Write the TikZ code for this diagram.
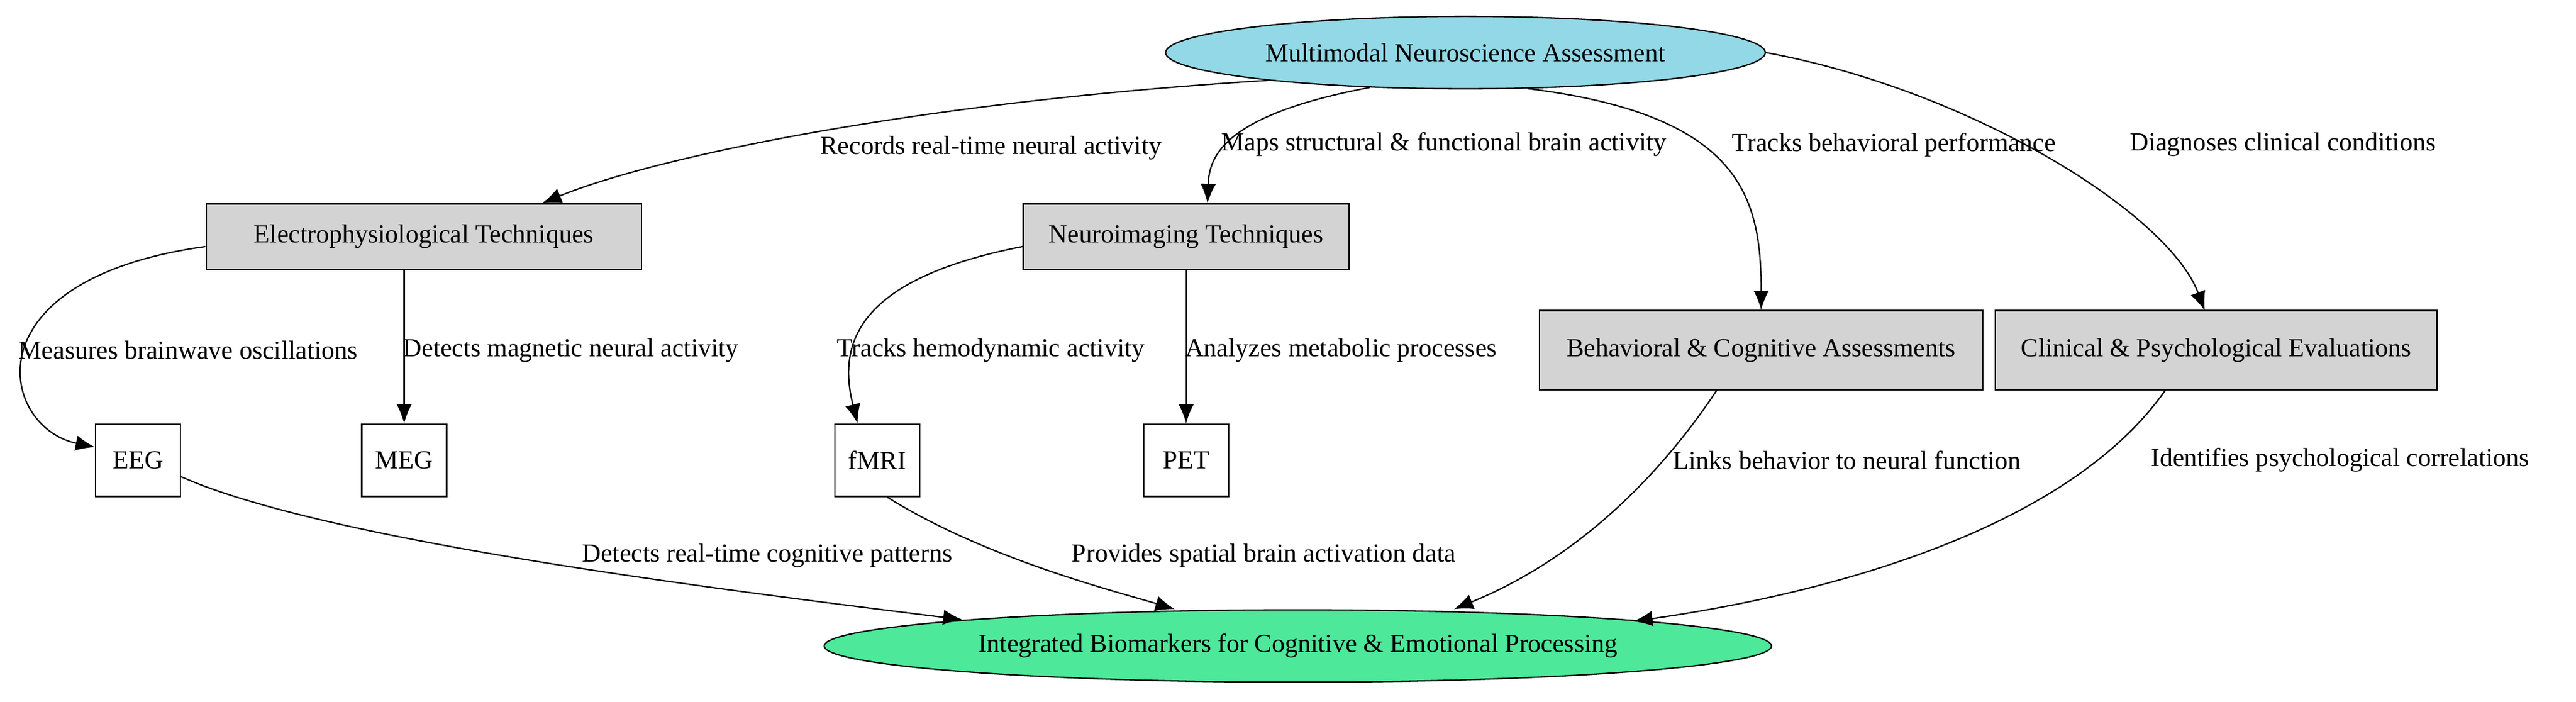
\documentclass[tikz,border=0pt]{standalone}
\usepackage{fontspec}
\setmainfont{Liberation Serif}
\usetikzlibrary{shapes.geometric,arrows.meta}
\definecolor{topc}{HTML}{93D8E6}
\definecolor{botc}{HTML}{4DE89A}
\definecolor{boxc}{HTML}{D3D3D3}
\begin{document}
\begin{tikzpicture}[x=0.03cm,y=-0.03cm,
  every node/.style={font=\fontsize{13.5}{15}\selectfont},
  ell/.style={ellipse,draw,inner sep=0pt,minimum height=1.32cm,line width=0.7pt},
  gbox/.style={rectangle,draw,fill=boxc,minimum height=1.2cm,inner xsep=4pt,line width=0.7pt},
  wbox/.style={rectangle,draw,fill=white,minimum width=1.55cm,minimum height=1.32cm,line width=0.7pt},
  lab/.style={anchor=west,inner sep=1pt},
  arr/.style={draw,-{Latex[length=10pt,width=8pt]},line width=0.7pt}]
\useasboundingbox (0,0) rectangle (1568,427);
\node[ell,fill=topc,minimum width=10.95cm] (top) at (892,32) {Multimodal Neuroscience Assessment};
\node[ell,fill=botc,minimum width=17.3cm] (bot) at (790,393) {Integrated Biomarkers for Cognitive \& Emotional Processing};
\node[gbox,minimum width=7.95cm] (ele) at (258,144) {Electrophysiological Techniques};
\node[gbox,minimum width=5.95cm] (neu) at (722,144) {Neuroimaging Techniques};
\node[gbox,minimum width=8.1cm,minimum height=1.44cm] (beh) at (1072,213) {Behavioral \& Cognitive Assessments};
\node[gbox,minimum width=8.07cm,minimum height=1.44cm] (cli) at (1349,213) {Clinical \& Psychological Evaluations};
\node[wbox] (eeg) at (84,280) {EEG};
\node[wbox] (meg) at (246,280) {MEG};
\node[wbox] (fmri) at (534,280) {fMRI};
\node[wbox] (pet) at (722,280) {PET};

\draw[arr] (top.188) .. controls (560,62) and (400,95) .. (ele.north -| 330,0);
\draw[arr] (top.200) .. controls (745,70) and (736,95) .. (neu.north -| 735,0);
\draw[arr] (top.330) .. controls (1060,70) and (1072,120) .. (beh.north);
\draw[arr] (top.east) .. controls (1200,55) and (1320,130) .. (1342,189);
\draw[arr] (ele.west |- 0,150) .. controls (-20,170) and (0,260) .. (eeg.west |- 0,272);
\draw[arr] (ele.south -| meg) -- (meg.north);
\draw[arr] (neu.west |- 0,150) .. controls (520,170) and (510,210) .. (fmri.north -| 522,0);
\draw[arr] (neu.south -| pet) -- (pet.north);
\draw[arr] (eeg.east |- 0,290) .. controls (200,330) and (450,360) .. (bot.north west |- 0,377);
\draw[arr] (fmri.south -| 540,0) .. controls (600,340) and (680,360) .. (bot.north -| 715,0);
\draw[arr] (beh.south -| 1045,0) .. controls (1010,290) and (960,340) .. (bot.north -| 885,0);
\draw[arr] (cli.south -| 1318,0) .. controls (1260,320) and (1120,360) .. (bot.north east |- 0,378);

\node[lab] (l1) at (498,90) {Records real-time neural activity};
\node[lab] (l2) at (742,88) {Maps structural \& functional brain activity};
\node[lab] (l3) at (1053,88) {Tracks behavioral performance};
\node[lab] (l4) at (1295,88) {Diagnoses clinical conditions};
\node[lab] (l5) at (10,213) {Measures brainwave oscillations};
\node[lab] (l6) at (244,213) {Detects magnetic neural activity};
\node[lab] (l7) at (508,213) {Tracks hemodynamic activity};
\node[lab] (l8) at (720,213) {Analyzes metabolic processes};
\node[lab] (l9) at (353,338) {Detects real-time cognitive patterns};
\node[lab] (l10) at (651,338) {Provides spatial brain activation data};
\node[lab] (l11) at (1017,280) {Links behavior to neural function};
\node[lab] (l12) at (1308,280) {Identifies psychological correlations};
\end{tikzpicture}
\end{document}
